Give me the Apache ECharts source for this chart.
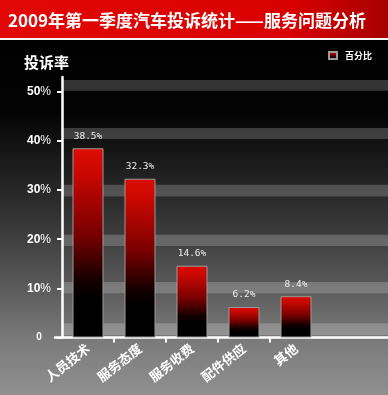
<!DOCTYPE html>
<html><head><meta charset="utf-8">
<script src="https://cdn.jsdelivr.net/npm/echarts@6/dist/echarts.min.js"></script>
<style>html,body{margin:0;padding:0;background:#000}#c{width:388px;height:395px}</style>
</head><body><div id="c"></div>
<script>
const titleText = '2009年第一季度汽车投诉统计——服务问题分析';
const yAxisName = '投诉率';
const seriesName = '百分比';
const categories = ['人员技术', '服务态度', '服务收费', '配件供应', '其他'];
const values = [38.5, 32.3, 14.6, 6.2, 8.4];
const yTicks = [0, 10, 20, 30, 40, 50];
const categoryDividers = [1, 2, 3, 4];
const bandRanges = [[0.5, 2.9], [9.0, 11.3], [18.6, 20.9], [28.7, 31.1], [40.4, 42.6], [50.2, 52.4]];

const CJK = '"Noto Sans CJK SC", sans-serif';
const chart = echarts.init(document.getElementById('c'), null, {renderer: 'canvas'});
const barGrad = new echarts.graphic.LinearGradient(0, 0, 0, 1, [
  {offset: 0, color: '#dc0c00'}, {offset: 0.12, color: '#cc0800'},
  {offset: 0.45, color: '#7a0000'}, {offset: 0.7, color: '#140000'},
  {offset: 0.8, color: '#000'}, {offset: 1, color: '#000'}
]);
const gTop = 77, gBottom = 57.5;
chart.setOption({
  animation: false,
  backgroundColor: new echarts.graphic.LinearGradient(0, 0, 0, 1, [
    {offset: 0, color: '#000'}, {offset: 0.28, color: '#030303'},
    {offset: 0.37, color: '#141414'}, {offset: 0.5, color: '#2a2a2a'},
    {offset: 0.63, color: '#454545'}, {offset: 0.76, color: '#626262'},
    {offset: 0.86, color: '#7a7a7a'}, {offset: 1, color: '#909090'}
  ]),
  graphic: [
    {type: 'rect', left: 0, top: 0, z: 0, shape: {width: 388, height: 38},
     style: {fill: new echarts.graphic.LinearGradient(0, 0, 1, 0, [
       {offset: 0, color: '#e30808'}, {offset: 0.75, color: '#d80000'}, {offset: 1, color: '#a80000'}])}},
    {type: 'rect', left: 0, top: 38, z: 0, shape: {width: 388, height: 2}, style: {fill: '#f4f4f4'}}
  ],
  title: [
    {text: titleText, left: 8, top: 12, padding: 0,
     textStyle: {color: '#fff', fontSize: 17, fontWeight: 'bold', fontFamily: CJK, lineHeight: 17}},
    {text: yAxisName, left: 24, top: 54.5, padding: 0,
     textStyle: {color: '#fff', fontSize: 15, fontWeight: 'bold', fontFamily: CJK, lineHeight: 15}}
  ],
  legend: {
    data: [{name: seriesName, icon: 'rect'}], right: 16, top: 51, padding: 0,
    itemWidth: 8, itemHeight: 7,
    textStyle: {color: '#fff', fontSize: 9, fontWeight: 'bold', fontFamily: CJK, padding: [0, 0, 0, 3]}
  },
  grid: [
    {left: 62, top: gTop, width: 260, bottom: gBottom},
    {left: 63, top: gTop, right: 0, bottom: gBottom},
    {left: 55, top: gTop, right: 0, bottom: gBottom}
  ],
  xAxis: [
    {type: 'category', gridIndex: 0, data: categories,
     axisLine: {show: false}, axisTick: {show: false},
     axisLabel: {interval: 0, rotate: 38, margin: 9, color: '#fff', fontSize: 13,
       fontWeight: 'bold', fontFamily: CJK}},
    {type: 'value', gridIndex: 1, min: 0, max: 1, show: false},
    {type: 'value', gridIndex: 2, min: 0, max: 1,
     axisLine: {show: true, lineStyle: {color: '#fff', width: 2.5}},
     axisTick: {show: false}, axisLabel: {show: false}, splitLine: {show: false}},
    {type: 'value', gridIndex: 0, min: 0, max: categories.length, position: 'bottom',
     axisLine: {show: false}, axisLabel: {show: false}, splitLine: {show: false},
     axisTick: {show: true, length: 5, customValues: categoryDividers, lineStyle: {color: '#fff', width: 2}}}
  ],
  yAxis: [
    {type: 'value', gridIndex: 0, min: 0, max: 53,
     axisLine: {show: true, lineStyle: {color: '#fff', width: 2.5}},
     axisTick: {show: true, length: 5, customValues: yTicks, lineStyle: {color: '#fff', width: 2}},
     splitLine: {show: false},
     axisLabel: {customValues: yTicks, margin: 23, align: 'center',
       formatter: (v) => v === 0 ? '{z|0}' : '{b|' + v + '}{p|%}',
       rich: {
         b: {color: '#fff', fontSize: 12, fontWeight: 'bold', fontFamily: 'Liberation Sans'},
         p: {color: '#fff', fontSize: 12, fontFamily: 'Liberation Sans'},
         z: {color: '#fff', fontSize: 10, fontWeight: 'bold', fontFamily: 'Liberation Sans'}
       }}},
    {type: 'value', gridIndex: 1, min: 0, max: 53, show: false},
    {type: 'value', gridIndex: 2, min: 0, max: 1, show: false}
  ],
  series: [
    {type: 'line', xAxisIndex: 1, yAxisIndex: 1, data: [], z: 1, silent: true,
     markArea: {silent: true, itemStyle: {color: 'rgba(255,255,255,0.2)'},
       data: bandRanges.map(r => [{yAxis: r[0]}, {yAxis: r[1]}])}},
    {type: 'bar', name: seriesName, xAxisIndex: 0, yAxisIndex: 0, data: values, z: 3,
     barWidth: 31,
     itemStyle: {color: barGrad, borderColor: '#9a9a9a', borderWidth: 1},
     label: {show: true, position: 'top', distance: 7, color: '#eeeeee', fontSize: 9.5,
       fontFamily: '"DejaVu Sans Mono", monospace', formatter: (p) => p.value + '%'}}
  ]
});
</script></body></html>
